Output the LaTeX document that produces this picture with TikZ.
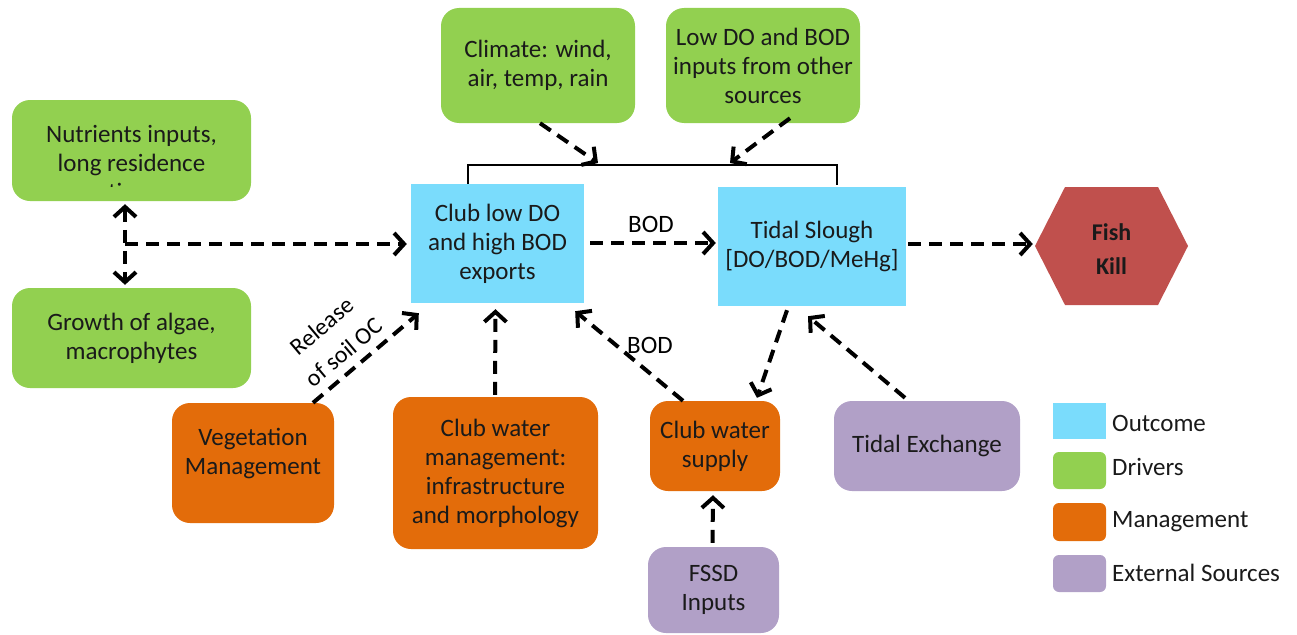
\documentclass[tikz,border=0pt]{standalone}
\usepackage{fontspec}
\setmainfont{Carlito}
\usetikzlibrary{arrows.meta,calc}
\definecolor{cgreen}{HTML}{92D050}
\definecolor{cblue}{HTML}{7ADCFC}
\definecolor{corange}{HTML}{E36C0A}
\definecolor{cpurple}{HTML}{B1A0C7}
\definecolor{cred}{HTML}{C0504D}
\definecolor{ctext}{HTML}{1A1A1A}
\tikzset{
  txt/.style={font=\fontsize{25}{29}\selectfont, text=ctext, align=center},
  rbox/.style={txt, rounded corners=18pt, inner sep=0pt},
  drv/.style={rbox, fill=cgreen},
  mgt/.style={rbox, fill=corange},
  extsrc/.style={rbox, fill=cpurple},
  outc/.style={txt, fill=cblue, inner sep=0pt},
  tipb/.tip={Straight Barb[length=10pt,width=22pt,line width=4pt]},
  flow/.style={line width=4pt, dash pattern=on 13pt off 8pt, -tipb},
  flowtwo/.style={line width=4pt, dash pattern=on 13pt off 8pt, tipb-tipb},
  lgbox/.style={minimum width=53pt, inner sep=0pt},
  lgtxt/.style={txt, anchor=west, inner sep=0pt},
}
\begin{document}
\begin{tikzpicture}[x=1pt,y=-1pt]
\useasboundingbox (0,0) rectangle (1297,634);

% drivers
\node[drv, minimum width=239pt, minimum height=101pt] (nut) at (131.5,150.5) {};
\begin{scope}
  \clip (12,100) rectangle (251,186);
  \node[txt] (nuttxt) at (131.5,163) {Nutrients inputs,\\long residence\\time};
\end{scope}
\node[drv, minimum width=239pt, minimum height=100pt] (gro) at (131.5,338) {Growth of algae,\\macrophytes};
\node[drv, minimum width=194pt, minimum height=115pt] (clim) at (538,65.5) {Climate: wind,\\air, temp, rain};
\node[drv, minimum width=194pt, minimum height=115pt] (low) at (763,65.5) {Low DO and BOD\\inputs from other\\sources};

% outcomes
\node[outc, minimum width=173pt, minimum height=119pt] (cl) at (497.5,243.5) {Club low DO\\and high BOD\\exports};
\node[outc, minimum width=188pt, minimum height=119pt] (ts) at (812,246.5) {Tidal Slough\\{}[DO/BOD/MeHg]};

% fish kill
\fill[cred] (1035,246) -- (1065,187) -- (1158,187) -- (1188,246) -- (1158,305) -- (1065,305) -- cycle;
\node[txt, font=\fontsize{24}{29}\selectfont\bfseries, minimum width=153pt, minimum height=118pt, inner sep=0pt] (fk) at (1111.5,249) {Fish\\[5pt]Kill};

% management
\node[mgt, minimum width=162pt, minimum height=120pt] (veg) at (253,463) {};
\node[txt] (vegtxt) at ($(veg)+(0,-10)$) {Vegetation\\Management};
\node[mgt, minimum width=205pt, minimum height=152pt] (cwm) at (495.5,473) {Club water\\management:\\infrastructure\\and morphology};
\node[mgt, minimum width=130pt, minimum height=90pt] (cws) at (715,446) {Club water\\supply};

% external
\node[extsrc, minimum width=186pt, minimum height=90pt] (tex) at (927,446) {Tidal Exchange};
\node[extsrc, minimum width=131pt, minimum height=86pt] (fssd) at (713.5,590) {FSSD\\Inputs};

% bracket
\coordinate (bl) at ($(cl.north)+(-29.5,0)$);
\coordinate (br) at ($(ts.north)+(25,-2)$);
\coordinate (bt) at (0,165);
\draw[line width=1.3pt] (bl) -- (bl |- bt) -- (br |- bt) -- (br);
\coordinate (ca) at (598,163);
\coordinate (la) at (730,163);

% connectors
\coordinate (jn) at (125,244);
\draw[flowtwo, shorten <=3pt, shorten >=3pt] ($(nut.south)+(-6.5,0)$) -- ($(gro.north)+(-6.5,0)$);
\draw[flow, shorten >=4pt] (jn) -- (jn -| cl.west);
\draw[flow, shorten <=6pt, shorten >=2pt] (cl.east |- 0,243) -- (ts.west |- 0,243)
  node[midway, above=5pt, txt, text=black] (bod1) {BOD};
\draw[flow, shorten <=2pt, shorten >=2pt] (ts.east |- 0,244) -- (fk.west |- 0,244);
\draw[flow] ($(clim.south)+(2,0)$) -- (ca);
\draw[flow] ($(low.south)+(27,-5)$) -- (la);
\draw[flow] ($(veg.north)+(60,0)$) -- ($(cl.south west)+(8,10)$);
\node[txt, text=black, font=\fontsize{24}{28}\selectfont, rotate=40] (rel) at (333,339) {Release\\[6pt]of soil OC};
\draw[flow, shorten <=2pt, shorten >=6pt] ($(cwm.north)+(-0.5,0)$) -- ($(cl.south)+(-2,0)$);
\draw[flow] ($(cws.north)+(-32,0)$) -- ($(cl.south east)+(-9,8)$);
\node[txt, text=black] (bod2) at (650,345) {BOD};
\draw[flow] ($(ts.south)+(-25,4)$) -- ($(cws.north)+(42,-3)$);
\draw[flow] ($(tex.north)+(-22,-3)$) -- ($(ts.south)+(-4,10)$);
\draw[flow, shorten <=4pt, shorten >=4pt] ($(fssd.north)+(-1,0)$) -- ($(cws.south)+(-2,0)$);

% legend
\node[lgbox, fill=cblue, minimum height=36pt] (lg1) at (1079.5,420.5) {};
\node[lgbox, fill=cgreen, minimum height=37pt, rounded corners=6pt] (lg2) at (1079.5,470.5) {};
\node[lgbox, fill=corange, minimum height=38pt, rounded corners=6pt] (lg3) at (1079.5,522) {};
\node[lgbox, fill=cpurple, minimum height=37pt, rounded corners=6pt] (lg4) at (1079.5,573.5) {};
\node[lgtxt] (lt1) at (1112,423) {Outcome};
\node[lgtxt] (lt2) at (1112,467) {Drivers};
\node[lgtxt] (lt3) at (1112,522) {Management};
\node[lgtxt] (lt4) at (1112,573) {External Sources};
\end{tikzpicture}
\end{document}
